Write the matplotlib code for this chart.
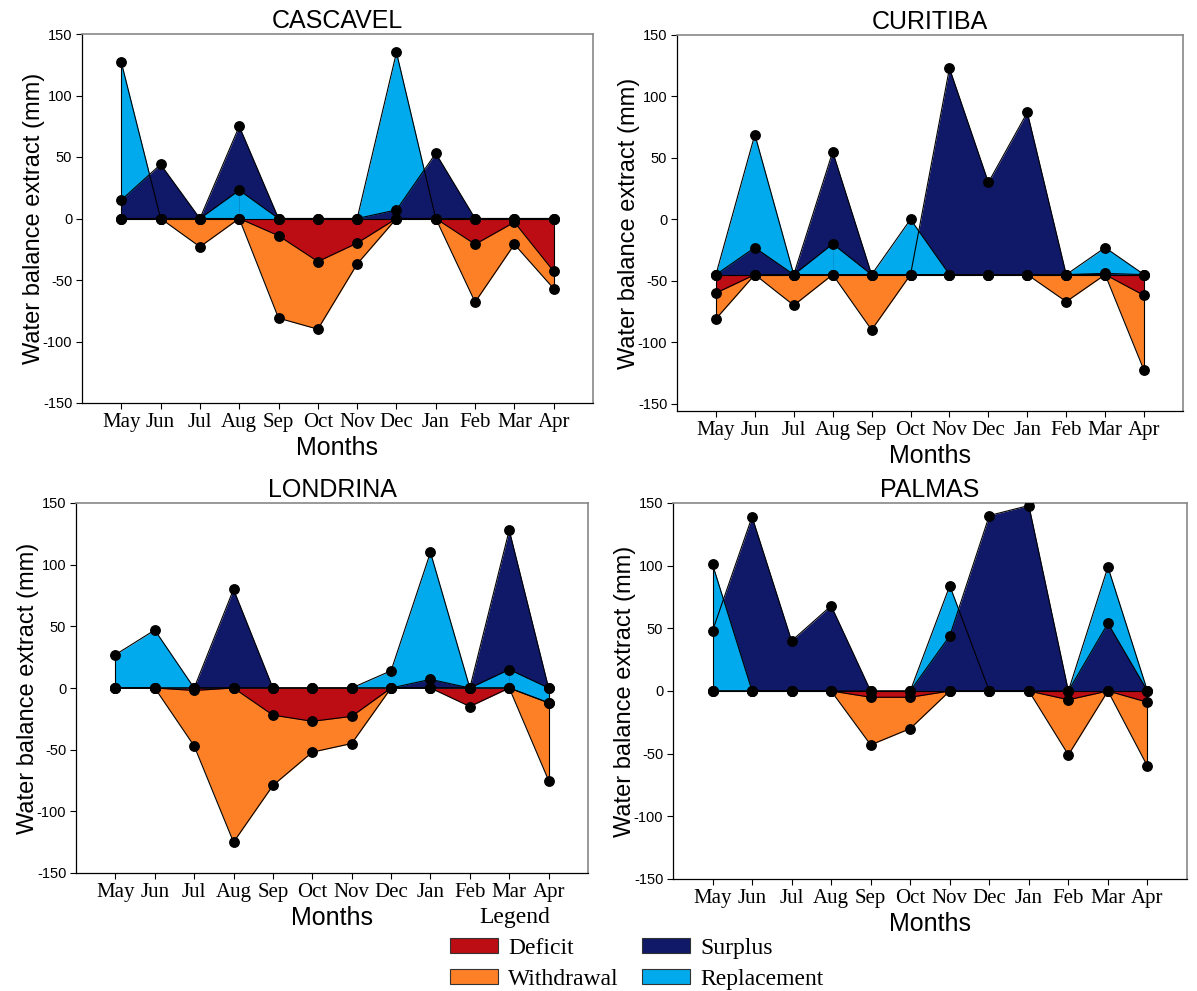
import numpy as np
import matplotlib
matplotlib.use("Agg")
import matplotlib.pyplot as plt
from matplotlib.patches import Patch

plt.rcParams['axes.unicode_minus'] = False

months = ['May', 'Jun', 'Jul', 'Aug', 'Sep', 'Oct', 'Nov', 'Dec', 'Jan', 'Feb', 'Mar', 'Apr']

# Cascavel (mm)
cas_base = 0
cas_rep = [127, 0, 0, 23, 0, 0, 0, 135, 0, 0, 0, 0]
cas_sur = [15, 44, 0, 75, 0, 0, 0, 7, 53, 0, 0, 0]
cas_def = [0, 0, 0, 0, -14, -35, -20, 0, 0, -21, -3, -43]
cas_wdr = [0, 0, -23, 0, -81, -90, -37, 0, 0, -68, -21, -57]
cas_rep_top = [2, 3]

# Curitiba (mm), drawn around -45
cur_base = -45
cur_rep = [-45, 69, -45, -20, -45, 0, -45, -45, -45, -45, -23, -45]
cur_sur = [-45, -23, -45, 55, -45, -45, 123, 30, 87, -45, -44, -45]
cur_def = [-60, -45, -45, -45, -45, -45, -45, -45, -45, -45, -45, -62]
cur_wdr = [-81, -45, -70, -45, -90, -45, -45, -45, -45, -67, -45, -123]
cur_rep_top = [2, 3, 5]

# Londrina (mm)
lon_base = 0
lon_rep = [27, 47, 0, 0, 0, 0, 0, 14, 110, 0, 15, 0]
lon_sur = [0, 0, 0, 80, 0, 0, 0, 0, 7, 0, 128, 0]
lon_def = [0, 0, -2, 0, -22, -27, -23, 0, 0, -15, 0, -12]
lon_wdr = [0, 0, -47, -125, -79, -52, -45, 0, 0, 0, 0, -75]
lon_rep_floor = [0, 0, 0, 0, 0, 0, 0, 0, 0, 0, 0, -12]
lon_rep_top = [9, 10]

# Palmas (mm)
pal_base = 0
pal_rep = [101, 0, 0, 0, 0, 0, 84, 0, 0, 0, 99, 0]
pal_sur = [48, 139, 40, 68, 0, 0, 44, 140, 148, 0, 54, 0]
pal_def = [0, 0, 0, 0, -5, -5, 0, 0, 0, -7, 0, -9]
pal_wdr = [0, 0, 0, 0, -43, -30, 0, 0, 0, -51, 0, -60]
pal_rep_top = [0]

RED = '#BC0C14'
ORANGE = '#FD8026'
NAVY = '#101868'
BLUE = '#00AAEC'

SANS = 'Liberation Sans'
SERIF = 'Liberation Serif'


def draw_panel(ax, title, base, rep, sur, dfc, wdr, rep_top, rep_floor=None, ymin=-150):
    x = np.arange(len(months))
    rep, sur, dfc, wdr = [np.asarray(v, float) for v in (rep, sur, dfc, wdr)]
    if rep_floor is None:
        floor = np.full(len(x), float(base))
    else:
        floor = np.asarray(rep_floor, float)

    ax.fill_between(x, base, wdr, color=ORANGE, lw=0)
    ax.fill_between(x, base, dfc, color=RED, lw=0)
    ax.fill_between(x, floor, rep, color=BLUE, lw=0)
    ax.fill_between(x, base, sur, color=NAVY, lw=0)
    # segments where replacement lies over surplus
    for i in rep_top:
        ax.fill_between(x[i:i + 2], floor[i:i + 2], rep[i:i + 2], color=BLUE, lw=0)

    allv = np.vstack([rep, sur, dfc, wdr, floor])
    ends = allv[:, [0, -1]]
    ax.vlines(x[[0, -1]], ends.min(axis=0), ends.max(axis=0), color='black', lw=0.8, zorder=3)
    for vals in (wdr, dfc, floor, rep, sur):
        ax.plot(x, vals, color='black', lw=0.8, marker='o', ms=6.8, zorder=4)

    ax.set_xlim(-1, 12)
    ax.set_ylim(ymin, 150)
    ax.set_yticks(np.arange(-150, 151, 50))
    ax.set_xticks(x)
    ax.set_xticklabels(months, fontfamily=SERIF, fontsize=15)
    for lab in ax.get_yticklabels():
        lab.set_fontfamily(SANS)
        lab.set_fontsize(10.5)
    ax.tick_params(direction='out', length=4, width=0.8, pad=3)
    ax.set_xlabel('Months', fontfamily=SANS, fontsize=18, labelpad=3)
    ax.set_ylabel('Water balance extract (mm)', fontfamily=SANS, fontsize=17, labelpad=-1.5)
    ax.set_title(title, fontfamily=SANS, fontsize=18, pad=4)
    for side in ('top', 'right'):
        ax.spines[side].set_color('#888888')
        ax.spines[side].set_linewidth(1.2)
    for side in ('left', 'bottom'):
        ax.spines[side].set_linewidth(0.9)


W, H = 1197, 991
fig = plt.figure(figsize=(W / 100, H / 100), dpi=100)


def add_ax(left, top, right, bottom):
    return fig.add_axes([left / W, 1 - bottom / H, (right - left) / W, (bottom - top) / H])


draw_panel(add_ax(82, 34, 593, 403), 'CASCAVEL', cas_base, cas_rep, cas_sur, cas_def, cas_wdr, cas_rep_top)
draw_panel(add_ax(677, 35, 1183, 411), 'CURITIBA', cur_base, cur_rep, cur_sur, cur_def, cur_wdr, cur_rep_top,
           ymin=-156)
draw_panel(add_ax(76, 503, 588, 873), 'LONDRINA', lon_base, lon_rep, lon_sur, lon_def, lon_wdr, lon_rep_top,
           lon_rep_floor)
draw_panel(add_ax(673, 503, 1187, 879), 'PALMAS', pal_base, pal_rep, pal_sur, pal_def, pal_wdr, pal_rep_top)

handles = [Patch(facecolor=RED, edgecolor='#333333', lw=0.8),
           Patch(facecolor=ORANGE, edgecolor='#333333', lw=0.8),
           Patch(facecolor=NAVY, edgecolor='#333333', lw=0.8),
           Patch(facecolor=BLUE, edgecolor='#333333', lw=0.8)]
labels = ['Deficit', 'Withdrawal', 'Surplus', 'Replacement']
fig.legend(handles, labels, loc='center', bbox_to_anchor=(637 / W, 1 - 964 / H), ncol=2,
           frameon=False, prop={'family': SERIF, 'size': 17}, handlelength=2.0, handleheight=0.6,
           handletextpad=0.45, columnspacing=1.0, labelspacing=0.45, borderpad=0)
fig.text(515 / W, 1 - 918 / H, 'Legend', ha='center', va='center', fontfamily=SERIF, fontsize=17)

fig.savefig('out.png', dpi=100)
